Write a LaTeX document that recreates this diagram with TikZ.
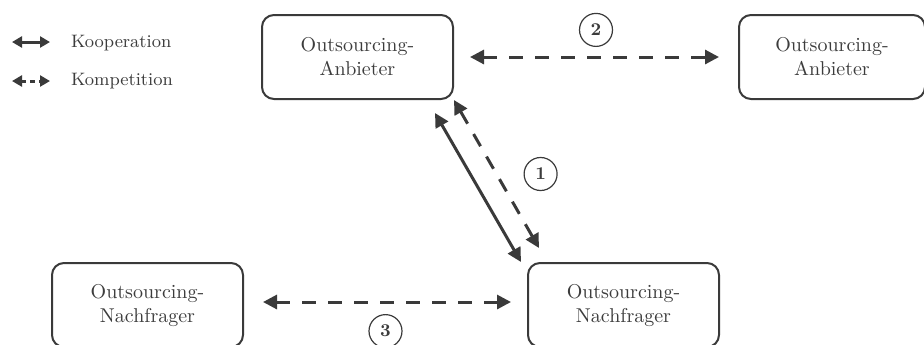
\documentclass[tikz,border=0pt]{standalone}
\usepackage{tikz}
\usetikzlibrary{arrows.meta,positioning}
\definecolor{linegray}{HTML}{3A3A3A}
\definecolor{textgray}{HTML}{3C3C3C}

\begin{document}
\begin{tikzpicture}[x=0.5pt,y=-0.5pt,>={Triangle[length=7pt,width=7pt]},
        every node/.style={text=textgray},
        actor/.style={draw=linegray,line width=1pt,rounded corners=6pt,
          minimum width=95.5pt,minimum height=42pt,align=center},
        coop/.style={<->,draw=linegray,line width=1.5pt},
        comp/.style={<->,draw=linegray,line width=1.5pt,dash pattern=on 7pt off 6pt},
        num/.style={circle,solid,draw=linegray,line width=0.6pt,minimum size=16.5pt,
          inner sep=0pt,font=\small\bfseries}]

  \useasboundingbox (0,0) rectangle (924,344);

  % legend
  \coordinate (koops) at (12,42);
  \coordinate (koope) at (50,42);
  \coordinate (komps) at (12,81);
  \coordinate (kompe) at (50,81);
  \node[anchor=west,font=\small] (koop) at (64,43) {Kooperation};
  \node[anchor=west,font=\small] (komp) at (64,81) {Kompetition};
  \path (koops) edge[coop,>={Triangle[length=5pt,width=5.5pt]}] (koope)
        (komps) edge[coop,dash pattern=on 2.5pt off 2pt,
                     >={Triangle[length=5pt,width=5.5pt]}] (kompe);

  % actors
  \node[actor] (a1) at (357.5,57) {Outsourcing-\\Anbieter};
  \node[actor,minimum width=93pt] (a2) at (832,57) {Outsourcing-\\Anbieter};
  \node[actor] (n1) at (147.5,305) {Outsourcing-\\Nachfrager};
  \node[actor] (n2) at (623.5,305) {Outsourcing-\\Nachfrager};

  % relations
  \path (a1) edge[comp,shorten <=8pt,shorten >=9.5pt] node[num,above=5pt] {2} (a2)
        ([yshift=1.5pt]n1.east) edge[comp,shorten <=9.5pt,shorten >=8pt]
          node[num,below=6pt] {3} ([yshift=1.5pt]n2.west)
        ([shift={(-19,13)}]a1.south east) edge[coop] ([shift={(-6,0)}]n2.north west)
        (a1.south east) edge[comp] node[num,right=13.5pt] {1}
          ([shift={(12,-14)}]n2.north west);

\end{tikzpicture}
\end{document}
